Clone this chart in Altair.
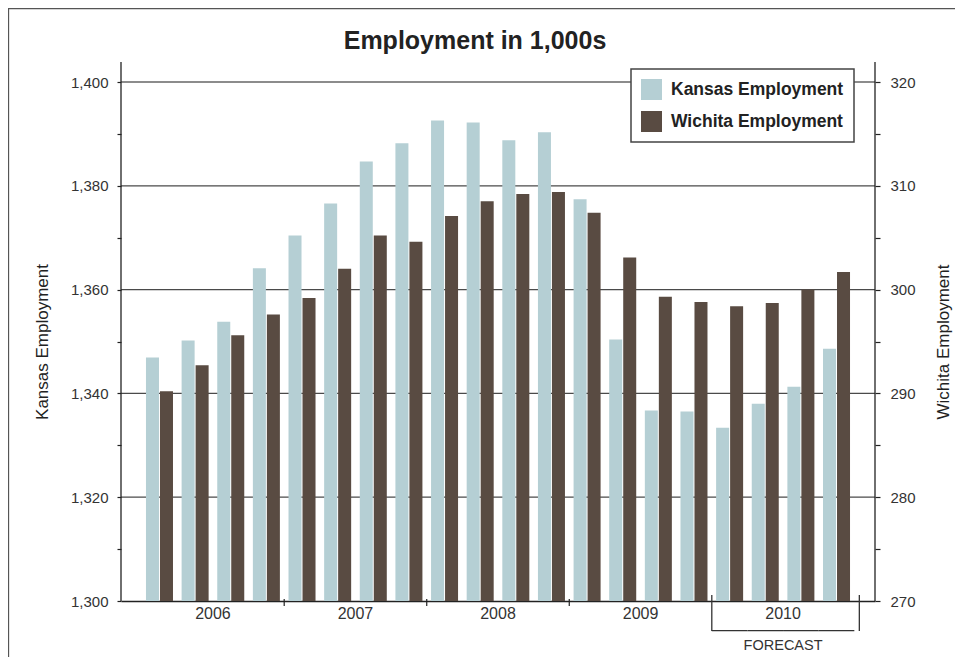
import altair as alt
import pandas as pd

# ---------------- data ----------------
years = ["2006", "2007", "2008", "2009", "2010"]
quarters = [f"{y} Q{q}" for y in years for q in range(1, 5)]
kansas = [1346.9, 1350.2, 1353.8, 1364.1, 1370.4, 1376.6, 1384.7, 1388.2,
          1392.6, 1392.2, 1388.8, 1390.3, 1377.4, 1350.4, 1336.7, 1336.5,
          1333.4, 1338.0, 1341.3, 1348.6]
wichita = [290.2, 292.7, 295.6, 297.6, 299.2, 302.0, 305.2, 304.6,
           307.1, 308.5, 309.2, 309.4, 307.4, 303.1, 299.3, 298.8,
           298.4, 298.7, 300.0, 301.7]
series = ["Kansas Employment", "Wichita Employment"]
colors = ["#b5cfd4", "#594b42"]
kansas_domain = [1300, 1400]
wichita_domain = [270, 320]
kansas_ticks = [1300, 1310, 1320, 1330, 1340, 1350, 1360, 1370, 1380, 1390, 1400]
wichita_ticks = [270, 275, 280, 285, 290, 295, 300, 305, 310, 315, 320]
kansas_grid = [1320, 1340, 1360, 1380]
kansas_top_grid = [1400]
year_boundaries = ["2007 Q1", "2008 Q1", "2009 Q1"]
year_label_at = ["2006 Q3", "2007 Q3", "2008 Q3", "2009 Q3", "2010 Q3"]
forecast_quarters = ["2010 Q1", "2010 Q2", "2010 Q3", "2010 Q4"]
title_text = "Employment in 1,000s"
forecast_text = "FORECAST"

W, H = 754, 519
FONT = "Liberation Sans"

df_k = pd.DataFrame({"quarter": quarters, "value": kansas, "series": series[0]})
df_w = pd.DataFrame({"quarter": quarters, "value": wichita, "series": series[1]})
df_grid = pd.DataFrame({"value": kansas_grid})
df_top = pd.DataFrame({"value": kansas_top_grid})
df_bounds = pd.DataFrame({"quarter": year_boundaries})
df_years = pd.DataFrame({"quarter": year_label_at, "label": years})
df_fc = pd.DataFrame({"quarter": forecast_quarters})
df_fc_start = pd.DataFrame({"quarter": [forecast_quarters[0]]})
df_fc_end = pd.DataFrame({"quarter": [forecast_quarters[-1]]})
df_fc_text = pd.DataFrame({"quarter": [forecast_quarters[2]], "label": [forecast_text]})
df_title = pd.DataFrame({"label": [title_text]})
df_one = pd.DataFrame({"a": [0]})

# ---------------- scales / axes ----------------
x_scale = alt.Scale(domain=quarters, paddingInner=0, paddingOuter=0.58)
x_axis = alt.Axis(labels=False, ticks=False, title=None, grid=False,
                  domainColor="#222", domainWidth=1.5)
xo_scale = alt.Scale(domain=series, paddingInner=0.071, paddingOuter=0.308)

k_scale = alt.Scale(domain=kansas_domain, zero=False, nice=False)
w_scale = alt.Scale(domain=wichita_domain, zero=False, nice=False)

k_axis = alt.Axis(orient="left", values=kansas_ticks, format=",.0f",
                  labelExpr="datum.value % 20 == 0 ? datum.label : ''",
                  tickSize=4, tickColor="#222", tickWidth=1.2,
                  labelPadding=9, labelFontSize=15, labelColor="#333",
                  domain=False, grid=False,
                  title="Kansas Employment", titleFontSize=17,
                  titleFontWeight="normal", titleColor="#222", titlePadding=19)
w_axis = alt.Axis(orient="right", values=wichita_ticks, format=".0f",
                  labelExpr="datum.value % 10 == 0 ? datum.label : ''",
                  tickSize=5, tickColor="#222", tickWidth=1.2,
                  labelPadding=10, labelFontSize=15, labelColor="#333",
                  domain=False, grid=False,
                  title="Wichita Employment", titleFontSize=17, titleAngle=270,
                  titleFontWeight="normal", titleColor="#222", titlePadding=37)

color = alt.Color(
    "series:N",
    scale=alt.Scale(domain=series, range=colors),
    legend=alt.Legend(title=None, orient="none", legendX=510, legendY=-13,
                      symbolType="square", symbolSize=441, symbolStrokeWidth=0,
                      symbolOpacity=1, labelFont=FONT, labelFontSize=17.5,
                      labelFontWeight="bold", labelColor="#222", labelOffset=9,
                      labelLimit=400, padding=10, rowPadding=11,
                      strokeColor="#444", fillColor="white"),
)

# ---------------- layers ----------------
frame = alt.Chart(df_one).mark_rect(fillOpacity=0, stroke="#555", strokeWidth=1.3).encode(
    x=alt.value(-112.5), y=alt.value(-73.5), x2=alt.value(W + 200), y2=alt.value(H + 200)
)

title = alt.Chart(df_title).mark_text(
    font=FONT, fontSize=25, fontWeight="bold", color="#222",
    align="center", baseline="alphabetic"
).encode(x=alt.value(W / 2 - 23), y=alt.value(-33), text="label:N")

grid = alt.Chart(df_grid).mark_rule(color="#4a4a4a", strokeWidth=1.3).encode(
    y=alt.Y("value:Q", scale=k_scale, axis=k_axis)
)
top_grid = alt.Chart(df_top).mark_rule(color="#8c8c8c", strokeWidth=1.8).encode(
    y=alt.Y("value:Q", scale=k_scale, axis=k_axis)
)

k_bars = alt.Chart(df_k).mark_bar().encode(
    x=alt.X("quarter:N", scale=x_scale, axis=x_axis),
    xOffset=alt.XOffset("series:N", scale=xo_scale),
    y=alt.Y("value:Q", scale=k_scale, axis=k_axis),
    y2=alt.datum(kansas_domain[0]),
    color=color,
)

w_bars = alt.Chart(df_w).mark_bar().encode(
    x=alt.X("quarter:N", scale=x_scale, axis=x_axis),
    xOffset=alt.XOffset("series:N", scale=xo_scale),
    y=alt.Y("value:Q", scale=w_scale, axis=w_axis),
    y2=alt.datum(wichita_domain[0]),
    color=color,
)

left_line = alt.Chart(df_one).mark_rule(color="#222", strokeWidth=1.3).encode(
    x=alt.value(0), y=alt.value(-20), y2=alt.value(H)
)
right_line = alt.Chart(df_one).mark_rule(color="#222", strokeWidth=1.3).encode(
    x=alt.value(W), y=alt.value(-20), y2=alt.value(H)
)

year_ticks = alt.Chart(df_bounds).mark_rule(color="#222", strokeWidth=1.2).encode(
    x=alt.X("quarter:N", scale=x_scale, axis=x_axis, bandPosition=0),
    y=alt.value(H - 2), y2=alt.value(H + 5),
)

year_labels = alt.Chart(df_years).mark_text(
    font=FONT, fontSize=16, color="#333", baseline="middle", align="center"
).encode(
    x=alt.X("quarter:N", scale=x_scale, axis=x_axis, bandPosition=0),
    y=alt.value(H + 13),
    text="label:N",
)

fc_line = alt.Chart(df_fc).mark_bar(color="#333", x2Offset=5).encode(
    x=alt.X("quarter:N", scale=x_scale, axis=x_axis),
    y=alt.value(H + 29), y2=alt.value(H + 30.3),
)
fc_left = alt.Chart(df_fc_start).mark_rule(color="#333", strokeWidth=1.3).encode(
    x=alt.X("quarter:N", scale=x_scale, axis=x_axis, bandPosition=0),
    y=alt.value(H - 6), y2=alt.value(H + 30),
)
fc_right = alt.Chart(df_fc_end).mark_rule(color="#333", strokeWidth=1.3, xOffset=5).encode(
    x=alt.X("quarter:N", scale=x_scale, axis=x_axis, bandPosition=1),
    y=alt.value(H - 6), y2=alt.value(H + 30),
)
fc_text = alt.Chart(df_fc_text).mark_text(
    font=FONT, fontSize=14.5, color="#333", baseline="middle", align="center"
).encode(
    x=alt.X("quarter:N", scale=x_scale, axis=x_axis, bandPosition=0),
    y=alt.value(H + 45),
    text="label:N",
)

left_group = alt.layer(frame, title, grid, top_grid, k_bars, left_line, right_line,
                       year_ticks, year_labels, fc_line, fc_left, fc_right, fc_text)
right_group = alt.layer(w_bars)

chart = alt.layer(left_group, right_group).resolve_scale(
    y="independent"
).resolve_axis(
    y="independent"
).properties(
    width=W,
    height=H,
    autosize=alt.AutoSizeParams(type="none"),
    padding={"left": 113, "top": 74, "right": 80, "bottom": 56},
    background="white",
).configure_view(
    stroke=None
).configure_axis(
    labelFont=FONT, titleFont=FONT
).configure_legend(
    strokeWidth=1.5
)

chart.save("out.html", embed_options={"renderer": "svg", "actions": False})
